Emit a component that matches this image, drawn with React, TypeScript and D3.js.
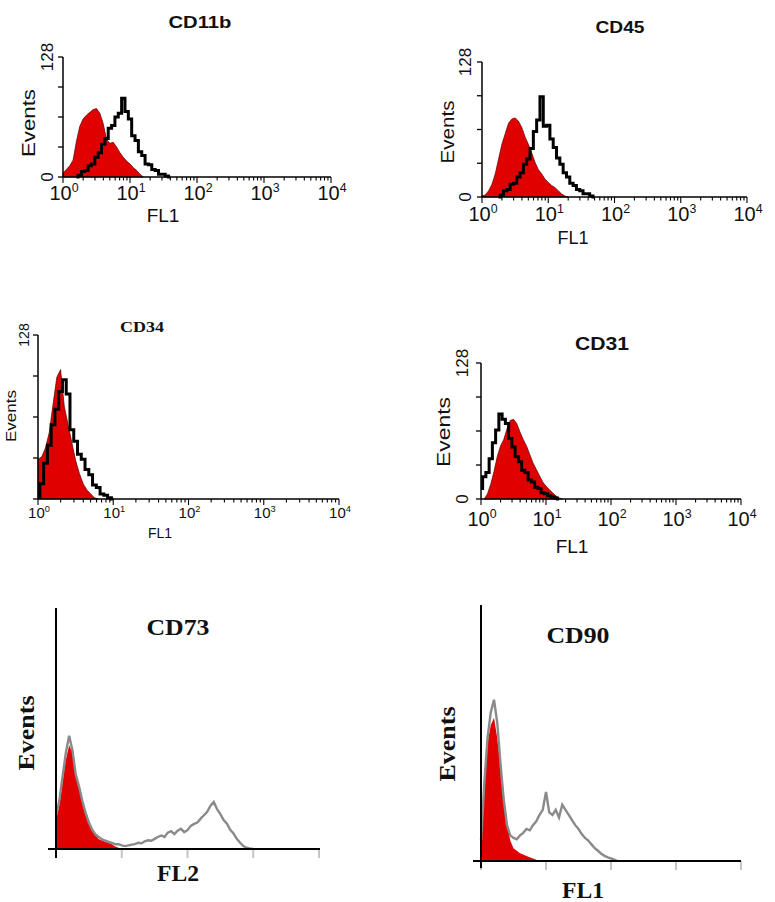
import { useEffect, useRef } from "react";
import * as d3 from "d3";

// histogram counts per channel; a channel is 0.05 decade wide
const CH = 0.05;

const decadeExps = ["0", "1", "2", "3", "4"];
const eventTicks = [0, 32, 64, 96, 128];

// CD11b (FL1): isotype starts at 10^0, stained at 10^0.2
const cd11bIso = [4, 8, 12, 18, 38, 54, 62, 66, 69, 72, 73, 68, 57, 40, 36, 37, 32, 26, 21, 17, 14, 10, 7, 3, 0];
const cd11bStain = [0, 2, 6, 7, 12, 14, 21, 26, 35, 41, 52, 55, 64, 68, 84, 70, 62, 44, 39, 27, 23, 14, 13, 8, 7, 3, 3, 1, 0];

// CD45: isotype from 10^0, stained from 10^0.25
const cd45Iso = [1, 2, 6, 12, 22, 36, 50, 60, 70, 74, 75, 72, 66, 57, 50, 42, 33, 26, 22, 17, 14, 11, 9, 6, 3, 1, 0];
const cd45Stain = [0, 2, 6, 7, 12, 13, 19, 23, 31, 36, 46, 62, 73, 95, 67, 68, 55, 47, 37, 31, 23, 19, 13, 11, 7, 6, 3, 3, 1, 0];

// CD34: both from 10^0
const cd34Iso = [31, 33, 40, 52, 74, 95, 101, 72, 58, 44, 30, 20, 12, 7, 4, 1, 0];
const cd34Stain = [2, 12, 28, 42, 58, 70, 84, 93, 82, 54, 45, 35, 31, 23, 19, 11, 9, 4, 3, 1, 0];

// CD31: isotype from 10^0.05, stained from 10^0
const cd31Iso = [0, 5, 14, 26, 40, 50, 56, 66, 74, 75, 71, 63, 56, 50, 42, 34, 28, 22, 16, 12, 9, 6, 3, 1, 0];
const cd31Stain = [10, 21, 25, 38, 53, 65, 80, 75, 71, 57, 49, 40, 35, 27, 25, 18, 16, 11, 10, 6, 5, 3, 2, 1, 0];

// CD73 (FL2), relative events 0-100, both from 10^0
const cd73Iso = [12, 18, 28, 37, 43, 40, 31, 26, 21, 16, 12, 8, 6, 4, 3.5, 3, 2.5, 2, 1, 0.5, 0];
const cd73Stain = [
  14, 20, 30, 40, 47, 41, 31, 26, 20, 15, 11, 8, 6, 5, 4, 3.5, 3, 2.5, 2, 2,
  1.5, 1.2, 1.5, 1.8, 2, 2.6, 2.4, 3.2, 3.6, 3.4, 4.2, 5, 5.6, 5, 6.8, 7.4, 6.2, 7.6, 8.4, 7,
  7.8, 9.6, 10.4, 11, 12.6, 14, 15.4, 18, 19.5, 16.5, 14.5, 12, 10.5, 8, 6.4, 4.2, 2.6, 1.2, 0.5, 0.2, 0,
];

// CD90 (FL1), relative events 0-100, both from 10^0
const cd90Iso = [6, 34, 46, 53, 56, 48, 37, 25, 15, 8, 5, 4, 3, 2.5, 2, 1.5, 1, 0.5, 0];
const cd90Stain = [
  8, 30, 48, 58, 63, 54, 38, 24, 14, 10, 9, 8.5, 10, 11, 12.5, 12, 14, 15.5, 18, 20,
  27, 19, 18, 20, 17, 22, 20, 18, 16, 14, 12.5, 10.5, 9, 8, 6.5, 5, 4, 2.8, 2, 1.4, 1, 0.5, 0,
];

const SANS = "'Liberation Sans', Arial, Helvetica, sans-serif";
const SERIF = "'Liberation Serif', 'Times New Roman', serif";
const RED = "#e00000";

type Series = { start: number; step: number; counts: number[] };
type Bin = { v: number; n: number };

function bins(s: Series): Bin[] {
  return s.counts.map((n, i) => ({ v: Math.pow(10, s.start + i * s.step), n: n }));
}

const topPanels = [
  {
    title: "CD11b", titleFont: SANS, titleAt: [200, 22], titleSize: 17, titleLen: 63,
    iso: { start: 0, step: CH, counts: cd11bIso }, stain: { start: 0.2, step: CH, counts: cd11bStain },
    x0: 63, x1: 331, yTop: 57, y0: 177,
    eventsAt: [28, 123], eventsSize: 19, eventsLen: 68,
    maxLabelX: 47, zeroLabel: true, numSize: 17,
    tickSize: 20, labelDy: 23, flAt: [163, 215], flSize: 19,
  },
  {
    title: "CD45", titleFont: SANS, titleAt: [620, 27], titleSize: 17, titleLen: 49,
    iso: { start: 0, step: CH, counts: cd45Iso }, stain: { start: 0.25, step: CH, counts: cd45Stain },
    x0: 482, x1: 747, yTop: 62, y0: 197,
    eventsAt: [448, 132], eventsSize: 18, eventsLen: 63,
    maxLabelX: 465, zeroLabel: true, numSize: 17,
    tickSize: 20, labelDy: 24, flAt: [573, 238], flSize: 18,
  },
  {
    title: "CD34", titleFont: SERIF, titleAt: [142, 327], titleSize: 15, titleLen: 44,
    iso: { start: 0, step: CH, counts: cd34Iso }, stain: { start: 0, step: CH, counts: cd34Stain },
    x0: 38, x1: 339, yTop: 335, y0: 499,
    eventsAt: [11, 416], eventsSize: 15, eventsLen: 52,
    maxLabelX: 24, zeroLabel: false, numSize: 14,
    tickSize: 15, labelDy: 19, flAt: [160, 533], flSize: 14,
  },
  {
    title: "CD31", titleFont: SANS, titleAt: [602, 343], titleSize: 19, titleLen: 54,
    iso: { start: 0.05, step: CH, counts: cd31Iso }, stain: { start: 0, step: CH, counts: cd31Stain },
    x0: 481, x1: 741, yTop: 363, y0: 499,
    eventsAt: [443, 432], eventsSize: 19, eventsLen: 70,
    maxLabelX: 462, zeroLabel: true, numSize: 17,
    tickSize: 20, labelDy: 27, flAt: [572, 546], flSize: 19,
  },
];

const bottomPanels = [
  {
    title: "CD73", titleAt: [178, 627], xLabel: "FL2", xLabelAt: [178, 873],
    iso: { start: 0, step: CH, counts: cd73Iso }, stain: { start: 0, step: CH, counts: cd73Stain },
    x0: 56, x1: 319, yTop: 608, y0: 849, axisLeft: 48, axisRight: 320, axisBottom: 858,
    eventsAt: [26, 733],
  },
  {
    title: "CD90", titleAt: [578, 635], xLabel: "FL1", xLabelAt: [583, 890],
    iso: { start: 0, step: CH, counts: cd90Iso }, stain: { start: 0, step: CH, counts: cd90Stain },
    x0: 481, x1: 741, yTop: 605, y0: 861, axisLeft: 473, axisRight: 741, axisBottom: 868,
    eventsAt: [447, 744],
  },
];

function drawTop(svg: any, p: any) {
  const g = svg.append("g");
  const x = d3.scaleLog().domain([1, 1e4]).range([p.x0, p.x1]);
  const y = d3.scaleLinear().domain([0, 128]).range([p.y0, p.yTop]);

  const area = d3.area<Bin>().x((d) => x(d.v)).y0(y(0)).y1((d) => y(d.n));
  const line = d3.line<Bin>().curve(d3.curveStep).x((d) => x(d.v)).y((d) => y(d.n));

  g.append("path").attr("d", area(bins(p.iso))).attr("fill", RED)
    .attr("stroke", "#5a0000").attr("stroke-width", 0.7);
  g.append("path").attr("d", line(bins(p.stain))).attr("fill", "none")
    .attr("stroke", "#000").attr("stroke-width", 3).attr("stroke-linejoin", "miter");

  // axes
  g.append("line").attr("x1", x(1)).attr("x2", x(1)).attr("y1", y(128)).attr("y2", y(0))
    .attr("stroke", "#000").attr("stroke-width", 1.5);
  g.append("line").attr("x1", x(1)).attr("x2", x(1e4)).attr("y1", y(0)).attr("y2", y(0))
    .attr("stroke", "#000").attr("stroke-width", 1.5);

  g.selectAll(".yt").data(eventTicks).enter().append("line")
    .attr("x1", x(1) - 5).attr("x2", x(1)).attr("y1", (d) => y(d)).attr("y2", (d) => y(d))
    .attr("stroke", "#000").attr("stroke-width", 1.3);

  g.selectAll(".xt").data(x.ticks()).enter().append("line")
    .attr("x1", (d) => x(d)).attr("x2", (d) => x(d))
    .attr("y1", y(0))
    .attr("y2", (d) => y(0) + (Math.abs(Math.log10(d) % 1) < 1e-6 ? 6 : 3.5))
    .attr("stroke", "#000").attr("stroke-width", 1.1);

  const labels = g.selectAll(".xl").data(decadeExps).enter().append("text")
    .attr("x", (d, i) => x(Math.pow(10, i)) + 1)
    .attr("y", y(0) + p.labelDy)
    .attr("text-anchor", "middle")
    .attr("font-family", SANS)
    .attr("font-size", p.tickSize)
    .attr("fill", "#111");
  labels.append("tspan").text("10");
  labels.append("tspan").attr("dy", -p.tickSize * 0.42).attr("font-size", p.tickSize * 0.62).text((d) => d);

  // y labels
  const yl = g.append("g").attr("font-family", SANS).attr("font-size", p.numSize).attr("fill", "#111");
  yl.append("text").attr("transform", `translate(${p.maxLabelX},${y(128)}) rotate(-90)`)
    .attr("text-anchor", "middle").attr("dy", "0.35em").text("128");
  if (p.zeroLabel) {
    yl.append("text").attr("transform", `translate(${p.maxLabelX},${y(0)}) rotate(-90)`)
      .attr("text-anchor", "middle").attr("dy", "0.35em").text("0");
  }
  g.append("text").attr("transform", `translate(${p.eventsAt[0]},${p.eventsAt[1]}) rotate(-90)`)
    .attr("text-anchor", "middle").attr("dy", "0.35em")
    .attr("font-family", SANS).attr("font-size", p.eventsSize).attr("fill", "#111")
    .attr("textLength", p.eventsLen).attr("lengthAdjust", "spacingAndGlyphs")
    .text("Events");

  g.append("text").attr("x", p.flAt[0]).attr("y", p.flAt[1]).attr("dy", "0.35em")
    .attr("text-anchor", "middle").attr("font-family", SANS).attr("font-size", p.flSize)
    .attr("fill", "#111").text("FL1");

  g.append("text").attr("x", p.titleAt[0]).attr("y", p.titleAt[1]).attr("dy", "0.35em")
    .attr("text-anchor", "middle").attr("font-family", p.titleFont).attr("font-weight", "bold")
    .attr("font-size", p.titleSize).attr("textLength", p.titleLen).attr("lengthAdjust", "spacingAndGlyphs")
    .attr("fill", "#111").text(p.title);
}

function drawBottom(svg: any, p: any) {
  const g = svg.append("g");
  const x = d3.scaleLog().domain([1, 1e4]).range([p.x0, p.x1]);
  const y = d3.scaleLinear().domain([0, 100]).range([p.y0, p.yTop]);

  const area = d3.area<Bin>().x((d) => x(d.v)).y0(y(0)).y1((d) => y(d.n));
  const line = d3.line<Bin>().x((d) => x(d.v)).y((d) => y(d.n));

  g.append("path").attr("d", area(bins(p.iso))).attr("fill", RED);
  g.append("path").attr("d", line(bins(p.stain))).attr("fill", "none")
    .attr("stroke", "#8a8a8a").attr("stroke-width", 2.4).attr("filter", "url(#soft)");

  g.selectAll(".xt").data(decadeExps).enter().append("line")
    .attr("x1", (d, i) => x(Math.pow(10, i))).attr("x2", (d, i) => x(Math.pow(10, i)))
    .attr("y1", y(0)).attr("y2", y(0) + 9)
    .attr("stroke", "#c4c4c4").attr("stroke-width", 2);

  g.append("line").attr("x1", p.axisLeft).attr("x2", p.axisRight).attr("y1", y(0)).attr("y2", y(0))
    .attr("stroke", "#000").attr("stroke-width", 2);
  g.append("line").attr("x1", x(1)).attr("x2", x(1)).attr("y1", y(100)).attr("y2", p.axisBottom)
    .attr("stroke", "#000").attr("stroke-width", 2);

  g.append("text").attr("x", p.titleAt[0]).attr("y", p.titleAt[1]).attr("dy", "0.35em")
    .attr("text-anchor", "middle").attr("font-family", SERIF).attr("font-weight", "bold")
    .attr("font-size", 24).attr("textLength", 63).attr("lengthAdjust", "spacingAndGlyphs")
    .attr("fill", "#111").text(p.title);
  g.append("text").attr("transform", `translate(${p.eventsAt[0]},${p.eventsAt[1]}) rotate(-90)`)
    .attr("text-anchor", "middle").attr("dy", "0.35em")
    .attr("font-family", SERIF).attr("font-weight", "bold").attr("font-size", 24)
    .attr("textLength", 75).attr("lengthAdjust", "spacingAndGlyphs")
    .attr("fill", "#111").text("Events");
  g.append("text").attr("x", p.xLabelAt[0]).attr("y", p.xLabelAt[1]).attr("dy", "0.35em")
    .attr("text-anchor", "middle").attr("font-family", SERIF).attr("font-weight", "bold")
    .attr("font-size", 24).attr("textLength", 42).attr("lengthAdjust", "spacingAndGlyphs")
    .attr("fill", "#111").text(p.xLabel);
}

export default function App() {
  const ref = useRef<SVGSVGElement>(null);

  useEffect(() => {
    const svg = d3.select(ref.current);
    svg.selectAll("*").remove();
    svg.append("defs").append("filter").attr("id", "soft")
      .append("feGaussianBlur").attr("stdDeviation", 0.7);
    topPanels.forEach((p) => drawTop(svg, p));
    bottomPanels.forEach((p) => drawBottom(svg, p));
  }, []);

  return (
    <svg
      ref={ref}
      width={775}
      height={902}
      style={{ position: "absolute", left: 0, top: 0, background: "#fff" }}
    />
  );
}
